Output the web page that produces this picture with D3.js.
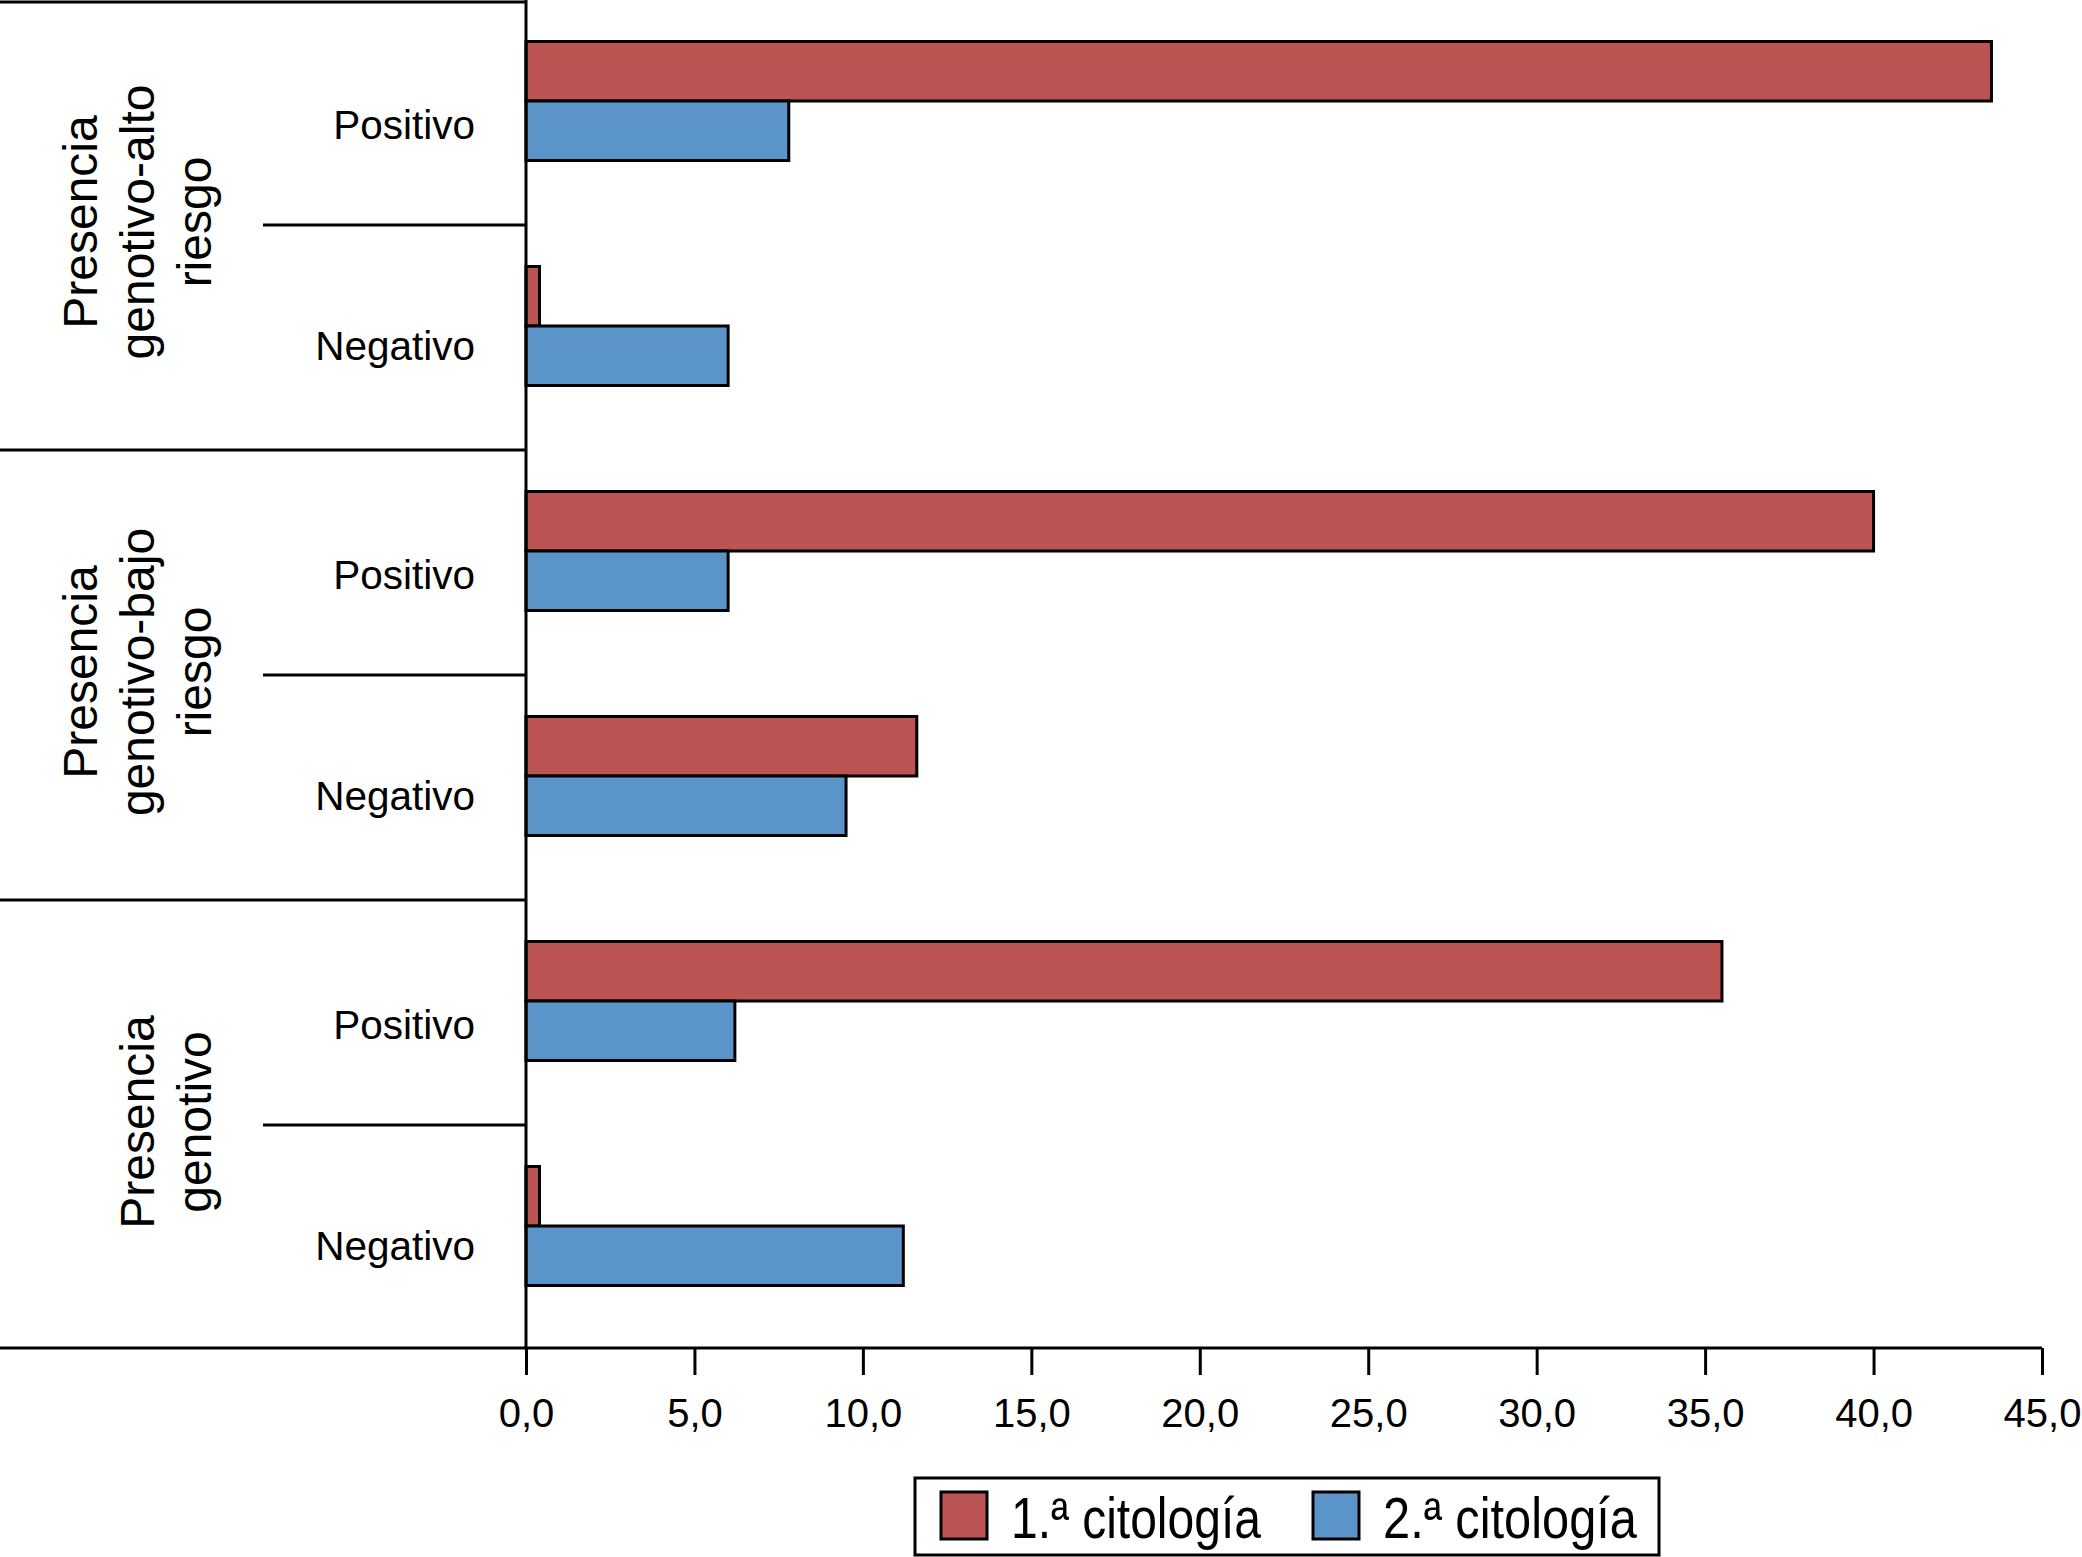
<!DOCTYPE html>
<html>
<head>
<meta charset="utf-8">
<script src="https://cdn.jsdelivr.net/npm/d3@7"></script>
<style>
  body { margin: 0; background: #fff; }
  text { font-family: "Liberation Sans", Arial, sans-serif; fill: #000; }
</style>
</head>
<body>
<svg id="chart"></svg>
<script>
// datos del gráfico
const groups = [
    ["Presencia", "genotivo-alto", "riesgo"],
    ["Presencia", "genotivo-bajo", "riesgo"],
    ["Presencia", "genotivo"]
]
const results = ["Positivo", "Negativo"]
const series = ["1.ª citología", "2.ª citología"]
const primera = [43.5, 0.4, 40.0, 11.6, 35.5, 0.4]
const segunda = [7.8, 6.0, 6.0, 9.5, 6.2, 11.2]
const xTicks = [0, 5, 10, 15, 20, 25, 30, 35, 40, 45]
const colors = ["#BB5452", "#5B94C9"]

const width = 2082, height = 1557
const svg = d3.select("#chart").attr("width", width).attr("height", height)

// one row per group x result
const rows = []
groups.forEach((g, gi) => results.forEach((r, ri) => {
    const i = gi * results.length + ri
    rows.push({key: gi + "-" + r, group: gi, label: r, values: [primera[i], segunda[i]]})
}))

const x = d3.scaleLinear().domain([0, 45]).range([526, 2042])
const y = d3.scaleBand().domain(rows.map(d => d.key)).range([0, 1350])
const yGroup = d3.scaleBand().domain(d3.range(groups.length)).range([0, 1350])
const inner = d3.scaleBand().domain(series).range([41.5, 160.5])

const comma = d3.formatLocale({decimal: ",", thousands: "."}).format(".1f")

// bars
const rowG = svg.append("g").selectAll("g")
    .data(rows)
    .enter()
    .append("g")
    .attr("transform", d => "translate(0," + y(d.key) + ")")

rowG.selectAll("rect")
    .data(d => d.values.map((v, i) => ({s: series[i], v: v, i: i})))
    .enter()
    .append("rect")
    .attr("x", x(0))
    .attr("y", d => inner(d.s))
    .attr("width", d => x(d.v) - x(0))
    .attr("height", inner.bandwidth())
    .style("fill", d => colors[d.i])
    .style("stroke", "#000")
    .style("stroke-width", 3)

rowG.append("text")
    .attr("x", 475)
    .attr("y", d => d.label == "Positivo" ? 139 : 135)
    .style("text-anchor", "end")
    .style("font-size", "40.5px")
    .text(d => d.label)

// separators
const lines = svg.append("g").style("stroke", "#000").style("stroke-width", 3)
lines.append("line").attr("x1", 0).attr("x2", x(0)).attr("y1", 2).attr("y2", 2)
groups.forEach((g, gi) => {
    if (gi > 0) {
        lines.append("line").attr("x1", 0).attr("x2", x(0))
            .attr("y1", yGroup(gi)).attr("y2", yGroup(gi))
    }
    lines.append("line").attr("x1", 263).attr("x2", x(0))
        .attr("y1", yGroup(gi) + yGroup.bandwidth() / 2)
        .attr("y2", yGroup(gi) + yGroup.bandwidth() / 2)
})
lines.append("line").attr("x1", x(0)).attr("x2", x(0)).attr("y1", 0).attr("y2", 1348)
lines.append("line").attr("x1", 0).attr("x2", x(45)).attr("y1", 1348).attr("y2", 1348)

// group labels, rotated
groups.forEach((g, gi) => {
    const cy = yGroup(gi) + yGroup.bandwidth() / 2 - 3
    g.forEach((ln, li) => {
        const bx = 211 - (g.length - 1 - li) * 57
        svg.append("text")
            .attr("transform", "translate(" + bx + "," + cy + ") rotate(-90)")
            .style("text-anchor", "middle")
            .style("font-size", "48px")
            .text(ln)
    })
})

// x axis
const axis = d3.axisBottom(x)
    .tickValues(xTicks)
    .tickSize(27)
    .tickPadding(24)
    .tickFormat(comma)

const ax = svg.append("g")
    .attr("transform", "translate(0,1348)")
    .call(axis)
ax.select(".domain").remove()
ax.selectAll(".tick line").style("stroke", "#000").style("stroke-width", 3)
ax.selectAll(".tick text")
    .style("font-family", "'Liberation Sans', Arial, sans-serif")
    .style("font-size", "40px")
    .style("fill", "#000")

// legend
const leg = svg.append("g")
leg.append("rect")
    .attr("x", 915).attr("y", 1478)
    .attr("width", 744).attr("height", 77)
    .style("fill", "#fff").style("stroke", "#000").style("stroke-width", 3)

const legX = [941, 1313]
const legTextW = [250, 254]
series.forEach((s, i) => {
    leg.append("rect")
        .attr("x", legX[i]).attr("y", 1492)
        .attr("width", 46).attr("height", 47)
        .style("fill", colors[i]).style("stroke", "#000").style("stroke-width", 3)
    leg.append("text")
        .attr("x", legX[i] + 70).attr("y", 1538)
        .attr("textLength", legTextW[i])
        .attr("lengthAdjust", "spacingAndGlyphs")
        .style("font-size", "57px")
        .text(s)
})
</script>
</body>
</html>
